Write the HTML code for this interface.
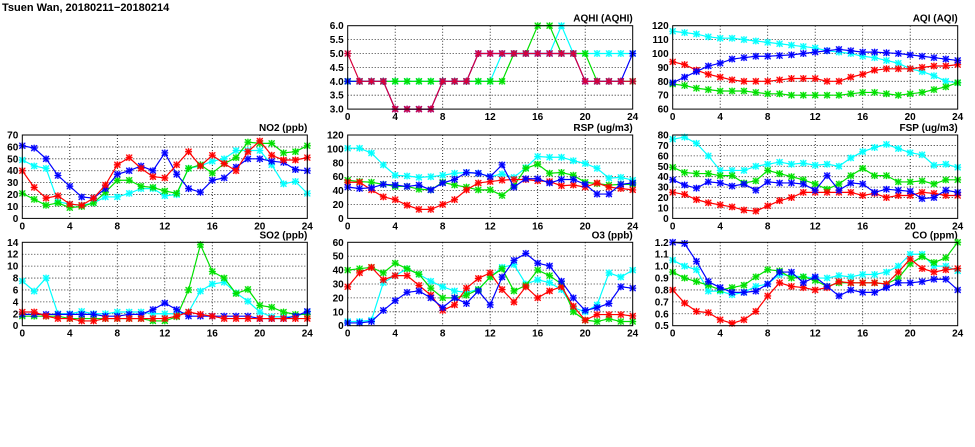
<!DOCTYPE html><html><head><style>body{margin:0;background:#fff}svg{display:block}text{font-family:"Liberation Sans",sans-serif;font-weight:bold;font-size:10px;fill:#000}</style></head><body>
<svg id="s" width="975" height="447" xmlns="http://www.w3.org/2000/svg"></svg>
<script>
const C={r:"#ff0000",g:"#00e000",b:"#0000ff",c:"#00ffff"};
const P=[
{t:"AQHI (AQHI)",x:347.7,y:25.7,min:3,max:6,step:0.5,dec:1,s:[
["c",[4,4,4,4,4,4,4,4,4,4,4,4,4,5,5,5,5,5,6,5,5,5,5,5,5]],
["g",[4,4,4,4,4,4,4,4,4,4,4,4,4,4,5,5,6,6,5,5,5,4,4,4,4]],
["b",[4,4,4,4,3,3,3,3,4,4,4,5,5,5,5,5,5,5,5,5,4,4,4,4,5]],
["#d8003c",[5,4,4,4,3,3,3,3,4,4,4,5,5,5,5,5,5,5,5,5,4,4,4,4,4]]]},
{t:"AQI (AQI)",x:672.7,y:25.7,min:60,max:120,step:10,dec:0,s:[
["c",[116,115,114,112,111,111,110,109,108,107,106,105,104,102,101,100,98,97,95,93,89,87,84,80,79]],
["g",[78,77,75,74,73,73,73,72,71,71,70,70,70,70,70,71,72,72,71,70,71,72,74,76,79]],
["r",[94,92,88,85,83,81,80,80,80,81,82,82,82,80,80,83,85,88,89,89,89,90,91,91,92]],
["b",[79,83,87,91,93,96,97,98,98,98.5,99,100,101,102,103,102,101,101,100.5,100,99,98,97,96,95]]]},
{t:"NO2 (ppb)",x:22.3,y:135,min:0,max:70,step:10,dec:0,s:[
["c",[49,44,42,14,12,11,13,18,18,21,25,25,19,20,42,44,48,50,57,57,57,45,29,31,21]],
["g",[21,16,11,13,9,10,13,22,32,32,27,26,23,21,42,45,38,46,51,64,63,63,55,56,61]],
["b",[61,59,50,36,27,18,17,25,37,40,44,40,55,37,25,22,32,34,43,50,50,48,47,41,40]],
["r",[40,26,17,19,12,11,17,28,45,51,42,35,34,45,56,44,53,46,40,56,65,53,49,49,51]]]},
{t:"RSP (ug/m3)",x:347.7,y:135,min:0,max:120,step:20,dec:0,s:[
["c",[101,101,94,77,62,61,59,60,62,65,66,65,60,64,59,73,89,88,88,83,79,72,58,59,55]],
["g",[55,53,52,49,46,46,42,41,52,48,45,41,41,33,47,72,78,65,66,62,52,50,48,49,49]],
["r",[52,52,41,31,27,19,13,13,20,27,41,51,53,55,56,56,54,53,47,48,45,51,45,43,41]],
["b",[45,43,44,49,48,46,48,41,51,56,66,65,60,77,45,57,57,51,56,56,49,35,35,49,51]]]},
{t:"FSP (ug/m3)",x:672.7,y:135,min:0,max:80,step:10,dec:0,s:[
["c",[76,78,72,60,46,46,46,50,52,54,52,53,51,52,50,58,64,68,71,67,63,61,51,52,49]],
["g",[49,44,43,43,41,41,34,36,46,43,40,37,33,28,33,41,48,41,41,35,35,36,33,37,37]],
["r",[25,23,18,15,13,11,8,7,12,17,20,25,25,25,25,25,22,24,20,22,22,25,24,22,22]],
["b",[37,32,29,35,34,31,33,27,35,34,34,33,27,41,27,34,33,25,28,27,26,19,20,27,25]]]},
{t:"SO2 (ppb)",x:22.3,y:242.3,min:0,max:14,step:2,dec:0,s:[
["c",[7.5,5.8,8,2,2,2.4,2,2,2.3,2.3,2.3,2,2,2,2.3,5.8,7,7.3,5.5,4.1,2.3,1.5,1.5,1.5,2.3]],
["g",[1.6,1.6,1.6,1.6,1.2,1.2,1.2,1.2,1.2,1.2,1.2,0.8,0.8,1.5,6,13.6,9.1,8,5.4,6.1,3.4,3.1,2.3,1.9,1.9]],
["b",[1.9,1.9,1.9,1.9,1.9,1.9,1.9,1.6,1.6,1.9,1.9,2.7,3.8,2.7,1.6,1.6,1.6,1.6,1.6,1.6,1.2,1.2,1.2,1.6,2.4]],
["r",[2.3,2.3,1.6,1.2,1.2,0.8,0.8,1.2,1.2,1.2,1.2,1.2,1.2,1.6,2.3,1.9,1.6,1.2,1.2,1.2,1.2,1.2,1.2,1.2,1.2]]]},
{t:"O3 (ppb)",x:347.7,y:242.3,min:0,max:60,step:10,dec:0,s:[
["c",[3,3,4,31,36,41,37,32,28,25,24,26,35,42,44,30,33,31,26,13,10,15,38,35,40]],
["g",[40,41,42,38,45,41,37,27,20,20,22,26,35,41,25,29,40,36,30,10,4,3,5,3,3]],
["r",[28,38,42,33,36,36,29,22,11,15,27,34,38,26,17,28,20,25,28,14,4,8,8,8,7]],
["b",[2,2,3,11,18,24,25,20,13,20,16,25,15,35,47,52,45,43,32,20,11,13,16,28,27]]]},
{t:"CO (ppm)",x:672.7,y:242.3,min:0.5,max:1.2,step:0.1,dec:1,s:[
["c",[1.05,1.0,0.97,0.79,0.79,0.76,0.78,0.83,0.85,0.93,0.92,0.91,0.90,0.90,0.92,0.91,0.93,0.93,0.95,1.0,1.1,1.1,1.0,1.0,0.96]],
["g",[0.95,0.90,0.87,0.84,0.80,0.82,0.84,0.91,0.97,0.96,0.90,0.91,0.88,0.83,0.86,0.86,0.86,0.86,0.85,0.90,1.02,1.08,1.03,1.07,1.2]],
["r",[0.80,0.69,0.62,0.61,0.55,0.52,0.55,0.62,0.75,0.86,0.83,0.82,0.80,0.82,0.87,0.86,0.86,0.86,0.85,0.95,1.06,0.98,0.95,0.97,0.98]],
["b",[1.2,1.19,1.04,0.87,0.82,0.78,0.78,0.79,0.85,0.95,0.95,0.86,0.91,0.83,0.75,0.80,0.78,0.78,0.82,0.86,0.86,0.87,0.89,0.89,0.80]]]}
];
const W=285,H=83.4;let o='<text x="2" y="11" style="font-size:11px">Tsuen Wan, 20180211−20180214</text>';
for(const p of P){
 const X=i=>p.x+i*W/24,Y=v=>p.y+H-(v-p.min)/(p.max-p.min)*H;
 o+=`<text x="${p.x+W}" y="${p.y-4}" text-anchor="end">${p.t}</text>`;
 const n=Math.round((p.max-p.min)/p.step);
 for(let k=0;k<=n;k++){const v=p.min+k*p.step,y=Y(v);
  if(k>0&&k<n)o+=`<line x1="${p.x}" x2="${p.x+W}" y1="${y}" y2="${y}" stroke="#000" stroke-width="0.8" stroke-dasharray="1,2"/>`;
  o+=`<text x="${p.x-4}" y="${y+3.5}" text-anchor="end">${v.toFixed(p.dec)}</text>`;}
 for(let i=0;i<=24;i+=4){const x=X(i);
  if(i>0&&i<24)o+=`<line x1="${x}" x2="${x}" y1="${p.y}" y2="${p.y+H}" stroke="#000" stroke-width="0.8" stroke-dasharray="1,2"/>`;
  o+=`<text x="${x}" y="${p.y+H+11}" text-anchor="middle">${i}</text>`;}
 for(const [c,d] of p.s){const col=C[c]||c;
  o+=`<polyline fill="none" stroke="${col}" stroke-width="1.2" points="${d.map((v,i)=>X(i)+','+Y(v)).join(' ')}"/>`;
  for(let i=0;i<d.length;i++){const x=X(i),y=Y(d[i]);
   o+=`<rect x="${x-3}" y="${y-3}" width="6" height="6" fill="${col}" opacity="0.35"/><path d="M${x-3} ${y-3}L${x+3} ${y+3}M${x-3} ${y+3}L${x+3} ${y-3}M${x-3.5} ${y}H${x+3.5}M${x} ${y-3.5}V${y+3.5}" stroke="${col}" stroke-width="1.1"/>`;}
 }
 o+=`<rect x="${p.x}" y="${p.y}" width="${W}" height="${H}" fill="none" stroke="#000" stroke-width="1"/>`;
}
document.getElementById('s').innerHTML=o;
</script></body></html>
